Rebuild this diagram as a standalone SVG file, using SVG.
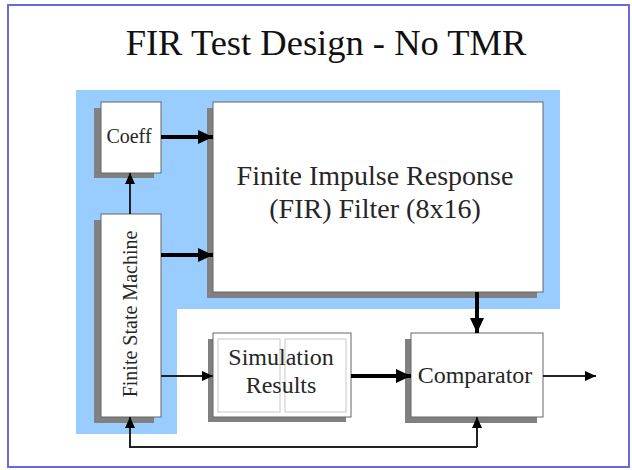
<svg xmlns="http://www.w3.org/2000/svg" width="632" height="470" viewBox="0 0 632 470">
<style>
.box{fill:#fff;stroke:#666;stroke-width:1}
.shd{fill:#808080}
.t{fill:#262626;text-anchor:middle}
.thick{stroke:#000;stroke-width:4;fill:none}
.thin{stroke:#222;stroke-width:2;fill:none}
.inner{fill:none;stroke:#c8c8c8;stroke-width:1}
</style>
<defs>
<marker id="ah" markerUnits="userSpaceOnUse" markerWidth="16" markerHeight="16" refX="15" refY="8" orient="auto">
<path d="M0,1 L15,8 L0,15 Z" fill="#000"/>
</marker>
<marker id="as" markerUnits="userSpaceOnUse" markerWidth="12" markerHeight="12" refX="11" refY="6" orient="auto">
<path d="M0,1 L11,6 L0,11 Z" fill="#000"/>
</marker>
</defs>
<rect x="0" y="0" width="632" height="470" fill="#fff"/>
<rect x="8" y="5" width="621" height="462" fill="#fff" stroke="#6a6ae0" stroke-width="2"/>
<g font-family="Liberation Serif, DejaVu Serif, serif">
<text class="t" x="326" y="55" font-size="36.5" style="fill:#111">FIR Test Design - No TMR</text>
<path d="M76,90 H560 V309 H177 V434 H76 Z" fill="#99ccff"/>

<g id="coeff">
<rect class="shd" x="94" y="108" width="60" height="70"/>
<rect class="box" x="101" y="102" width="60" height="71"/>
<text class="t" x="129" y="143" font-size="20">Coeff</text>
</g>
<g id="fsm">
<rect class="shd" x="94" y="220" width="60" height="203"/>
<rect class="box" x="101" y="214" width="60" height="203"/>
<text class="t" x="0" y="0" font-size="20" transform="translate(137,314) rotate(-90)">Finite State Machine</text>
</g>
<g id="fir">
<rect class="shd" x="207" y="108" width="330" height="190"/>
<rect class="box" x="213" y="102" width="330" height="190"/>
<text class="t" x="375" y="185" font-size="28">Finite Impulse Response</text>
<text class="t" x="375" y="218" font-size="28">(FIR) Filter (8x16)</text>
</g>
<g id="sim">
<rect class="shd" x="208" y="339" width="138" height="83"/>
<rect class="box" x="213" y="333" width="138" height="84"/>
<rect class="inner" x="218" y="339" width="62" height="73"/>
<rect class="inner" x="285" y="339" width="61" height="73"/>
<text class="t" x="281" y="365" font-size="24">Simulation</text>
<text class="t" x="281" y="393" font-size="24">Results</text>
</g>
<g id="comparator">
<rect class="shd" x="405" y="339" width="132" height="84"/>
<rect class="box" x="411" y="333" width="132" height="84"/>
<text class="t" x="475" y="383" font-size="24">Comparator</text>
</g>
</g>
<g id="connectors">
<path class="thick" d="M161,137 H213" marker-end="url(#ah)"/>
<path class="thick" d="M161,255 H213" marker-end="url(#ah)"/>
<path class="thin" d="M130,214 V173" marker-end="url(#as)"/>
<path class="thick" d="M477,292 V333" marker-end="url(#ah)"/>
<path class="thin" d="M161,376 H213" marker-end="url(#as)"/>
<path class="thick" d="M351,376 H411" marker-end="url(#ah)"/>
<path class="thin" d="M543,376 H596" marker-end="url(#as)"/>
<path class="thin" d="M477,447 V417" marker-end="url(#as)"/>
<path class="thin" d="M477,447 H130 V417" marker-end="url(#as)"/>
</g>
</svg>
